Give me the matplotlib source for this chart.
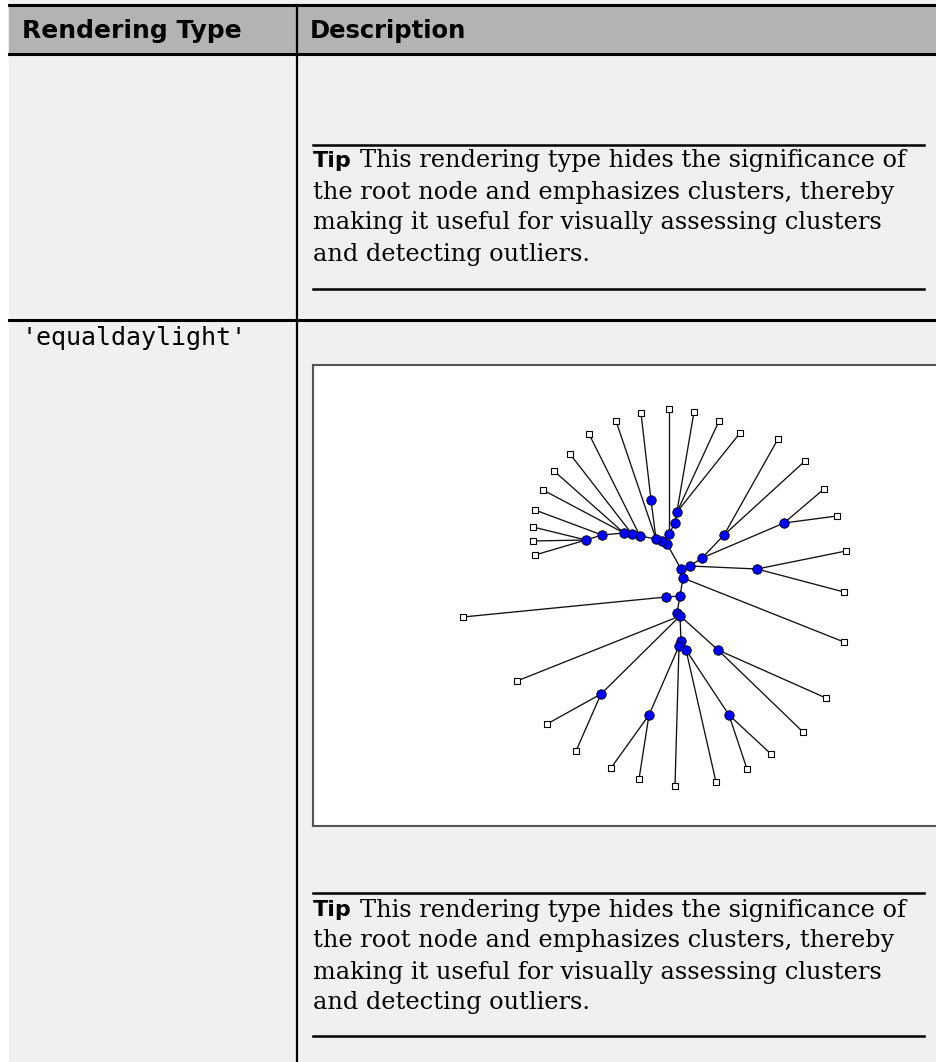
import matplotlib.pyplot as plt
from matplotlib.patches import Rectangle

# page text
header_labels = ['Rendering Type', 'Description']
render_type = "'equaldaylight'"
tip_lines = ['This rendering type hides the significance of',
             'the root node and emphasizes clusters, thereby',
             'making it useful for visually assessing clusters',
             'and detecting outliers.']

# tree layout (node positions)
node_x = [667, 662, 656, 669, 675, 677, 651, 640, 632, 624, 602, 586,
          681, 690, 702, 724, 784, 757, 683, 680, 666, 677, 680, 601,
          718, 681, 679, 686, 649, 729]
node_y = [544, 541, 539, 534, 523, 512, 500, 536, 534, 533, 535, 540,
          569, 566, 558, 535, 523, 569, 578, 596, 597, 613, 616, 694,
          650, 641, 646, 650, 715, 715]
leaf_x = [641, 669, 616, 589, 570, 554, 543, 535, 533, 533, 535,
          694, 719, 740, 778, 805, 824, 837, 846, 844, 844,
          463, 517, 547, 576, 611, 639, 675, 716, 747, 771, 803, 826]
leaf_y = [413, 409, 421, 434, 454, 471, 490, 510, 527, 541, 555,
          412, 421, 433, 439, 461, 489, 516, 551, 592, 642,
          617, 681, 724, 751, 768, 779, 786, 782, 769, 754, 732, 698]
# edges: (parent node, child) ; child 'Lk' = leaf k, 'Nk' = node k
edges = [(0, 'N12'), (0, 'N1'), (1, 'N2'), (1, 'N3'), (3, 'N4'), (4, 'N5'),
         (3, 'L1'), (4, 'L11'), (5, 'L12'), (5, 'L13'),
         (2, 'N6'), (6, 'L0'), (2, 'L2'), (2, 'N7'), (7, 'L3'), (7, 'N8'),
         (8, 'L4'), (8, 'N9'), (9, 'L5'), (9, 'L6'), (9, 'N10'), (10, 'L7'),
         (10, 'N11'), (11, 'L8'), (11, 'L9'), (11, 'L10'),
         (12, 'N13'), (13, 'N14'), (14, 'N15'), (14, 'N16'), (15, 'L14'),
         (15, 'L15'), (16, 'L16'), (16, 'L17'), (13, 'N17'), (17, 'L18'),
         (17, 'L19'), (12, 'N18'), (18, 'L20'), (18, 'N19'), (19, 'N20'),
         (20, 'L21'), (19, 'N21'), (21, 'N22'), (22, 'L22'), (22, 'N23'),
         (23, 'L23'), (23, 'L24'), (21, 'N24'), (24, 'L31'), (24, 'L32'),
         (22, 'N25'), (25, 'N26'), (25, 'N27'), (26, 'N28'), (26, 'L27'),
         (28, 'L25'), (28, 'L26'), (27, 'N29'), (27, 'L28'), (29, 'L29'),
         (29, 'L30')]

W, H = 936, 1062
fig = plt.figure(figsize=(W / 100, H / 100), dpi=100)
fig.patch.set_facecolor('white')
page = fig.add_axes([0, 0, 1, 1])
page.set_xlim(0, W)
page.set_ylim(H, 0)
page.axis('off')

# background and header band
page.add_patch(Rectangle((9, 0), W - 9, H, color='#f0f0f0', zorder=0))
page.add_patch(Rectangle((9, 5), W - 9, 49, color='#b3b3b3', zorder=1))
for y in [5, 54, 320]:
    page.plot([9, W], [y, y], color='black', lw=2.2, zorder=2)
page.plot([297, 297], [5, H], color='black', lw=1.6, zorder=2)

page.text(22, 31, header_labels[0], fontsize=18, fontweight='bold',
          family='DejaVu Sans', va='center', ha='left')
page.text(310, 31, header_labels[1], fontsize=17.5, fontweight='bold',
          family='DejaVu Sans', va='center', ha='left')

page.text(22, 338, render_type, fontsize=18, family='DejaVu Sans Mono',
          va='center', ha='left')


def tip_block(y_top, y_bot, y_first):
    page.plot([313, 924], [y_top, y_top], color='black', lw=1.8)
    page.plot([313, 924], [y_bot, y_bot], color='black', lw=1.8)
    page.text(313, y_first, 'Tip', fontsize=16, fontweight='bold',
              family='DejaVu Sans', va='center', ha='left')
    for i, line in enumerate(tip_lines):
        x0 = 360 if i == 0 else 313
        page.text(x0, y_first + i * 31, line, fontsize=17.3,
                  family='DejaVu Serif', va='center', ha='left')


tip_block(145, 289, 161)
tip_block(893, 1036, 910)

# tree panel
x0, y0, x1, y1 = 313, 365, 945, 826
ax = fig.add_axes([x0 / W, 1 - y1 / H, (x1 - x0) / W, (y1 - y0) / H])
ax.set_facecolor('white')
ax.set_xlim(x0, x1)
ax.set_ylim(y1, y0)
ax.set_xticks([])
ax.set_yticks([])
for s in ax.spines.values():
    s.set_color('#555555')
    s.set_linewidth(1.5)

for p, c in edges:
    idx = int(c[1:])
    cx, cy = (leaf_x[idx], leaf_y[idx]) if c[0] == 'L' else (node_x[idx], node_y[idx])
    ax.plot([node_x[p], cx], [node_y[p], cy], color='#111111', lw=0.95, zorder=1)

ax.plot(leaf_x, leaf_y, 's', ms=4.6, mfc='white', mec='black', mew=0.8,
        ls='none', zorder=3)
ax.plot(node_x, node_y, 'o', ms=6.8, mfc='#0000ff', mec='black', mew=0.6,
        ls='none', zorder=4)

fig.savefig('out.png', dpi=100)
